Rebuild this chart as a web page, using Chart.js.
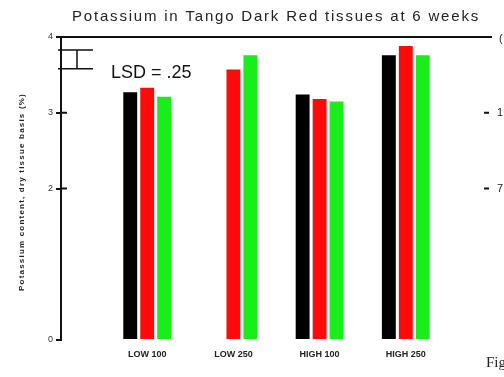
<!DOCTYPE html>
<html>
<head>
<meta charset="utf-8">
<script src="https://cdn.jsdelivr.net/npm/chart.js@4"></script>
<style>
  html, body { margin: 0; padding: 0; background: #fff; }
  #wrap { width: 504px; height: 377px; }
</style>
</head>
<body>
<div id="wrap"><canvas id="chart" width="504" height="377"></canvas></div>
<script>
// ─── Data ────────────────────────────────────────────────────
const CATEGORIES = ['', 'LOW 100', 'LOW 250', 'HIGH 100', 'HIGH 250', ''];
const SERIES_A = [null, 3.27, null, 3.24, 3.76, null];   // black
const SERIES_B = [null, 3.33, 3.57, 3.18, 3.88, null];   // red
const SERIES_C = [null, 3.21, 3.76, 3.15, 3.76, null];   // green
const Y_TICKS = [0, 2, 3, 4];
const LSD_VALUE = 0.25;
const LSD_TOP = 3.83;

const TITLE = 'Potassium in Tango Dark Red tissues at 6 weeks';
const Y_TITLE = 'Potassium content, dry tissue basis (%)';

// ─── Frame, LSD marker and stray page text ───────────────────
const extras = {
  id: 'extras',
  afterDraw(chart) {
    const { ctx, chartArea: a, scales: { y } } = chart;
    ctx.save();
    ctx.strokeStyle = '#111';
    ctx.fillStyle = '#111';

    // top frame line
    ctx.lineWidth = 2;
    ctx.beginPath();
    ctx.moveTo(a.left - 1, a.top);
    ctx.lineTo(a.right, a.top);
    ctx.stroke();

    // inner half of the y tick marks + right side stubs
    Y_TICKS.slice(1, 3).forEach(v => {
      const py = y.getPixelForValue(v);
      ctx.beginPath();
      ctx.moveTo(a.left, py);
      ctx.lineTo(a.left + 6, py);
      ctx.moveTo(a.right - 8, py);
      ctx.lineTo(a.right - 3, py);
      ctx.stroke();
    });

    // LSD bracket
    const t = y.getPixelForValue(LSD_TOP);
    const b = y.getPixelForValue(LSD_TOP - LSD_VALUE);
    ctx.lineWidth = 1.5;
    ctx.beginPath();
    ctx.moveTo(a.left - 3, t); ctx.lineTo(a.left + 32, t);
    ctx.moveTo(a.left - 3, b); ctx.lineTo(a.left + 32, b);
    ctx.moveTo(a.left + 16, t); ctx.lineTo(a.left + 16, b);
    ctx.stroke();
    ctx.font = '18px "Liberation Sans", Arial, sans-serif';
    ctx.textBaseline = 'middle';
    ctx.fillText('LSD = .25', a.left + 50, b + 4);

    // title
    ctx.font = '15px "Liberation Sans", Arial, sans-serif';
    ctx.letterSpacing = '1.8px';
    ctx.textAlign = 'center';
    ctx.fillStyle = '#222';
    ctx.fillText(TITLE, 276, 17);

    // y axis title
    ctx.save();
    ctx.translate(22, 192);
    ctx.rotate(-Math.PI / 2);
    ctx.letterSpacing = '1.2px';
    ctx.font = 'bold 8px "Liberation Sans", Arial, sans-serif';
    ctx.fillText(Y_TITLE, 0, 0);
    ctx.restore();
    ctx.letterSpacing = '0px';

    // right-edge fragments of the neighbouring figure
    ctx.textAlign = 'left';
    ctx.font = '11px "Liberation Sans", Arial, sans-serif';
    ctx.fillText('1', 497, y.getPixelForValue(3));
    ctx.fillText('7', 497, y.getPixelForValue(2));
    ctx.fillText('(', 499, a.top + 2);
    ctx.font = '15px "Liberation Serif", "Times New Roman", serif';
    ctx.fillText('Fig', 486, 363);
    ctx.restore();
  }
};

// ─── Chart ───────────────────────────────────────────────────
const barStyle = { categoryPercentage: 0.59, barPercentage: 0.82, borderWidth: 0 };

new Chart(document.getElementById('chart').getContext('2d'), {
  type: 'bar',
  data: {
    labels: CATEGORIES,
    datasets: [
      { label: 'A', data: SERIES_A, backgroundColor: '#000000', ...barStyle },
      { label: 'B', data: SERIES_B, backgroundColor: '#ff0a0a', ...barStyle },
      { label: 'C', data: SERIES_C, backgroundColor: '#1aee1a', ...barStyle },
    ]
  },
  options: {
    responsive: false,
    animation: false,
    layout: { padding: { top: 37, right: 12, left: 0, bottom: 0 } },
    plugins: { legend: { display: false }, title: { display: false }, tooltip: { enabled: false } },
    scales: {
      x: {
        offset: false,
        grid: { display: false },
        border: { display: false },
        ticks: {
          color: '#222', padding: 1, maxRotation: 0, autoSkip: false,
          font: { size: 9, weight: 'bold', family: '"Liberation Sans", Arial, sans-serif' }
        },
        afterFit: s => { s.height = 37; }
      },
      y: {
        min: 0, max: 4,
        afterBuildTicks: s => { s.ticks = Y_TICKS.map(v => ({ value: v })); },
        grid: { drawOnChartArea: false, tickLength: 5, color: '#111', lineWidth: 2 },
        border: { display: true, color: '#111', width: 2 },
        ticks: {
          color: '#333', padding: 3,
          font: { size: 9, family: '"Liberation Sans", Arial, sans-serif' }
        },
        afterFit: s => { s.width = 61; }
      }
    }
  },
  plugins: [extras]
});
</script>
</body>
</html>
